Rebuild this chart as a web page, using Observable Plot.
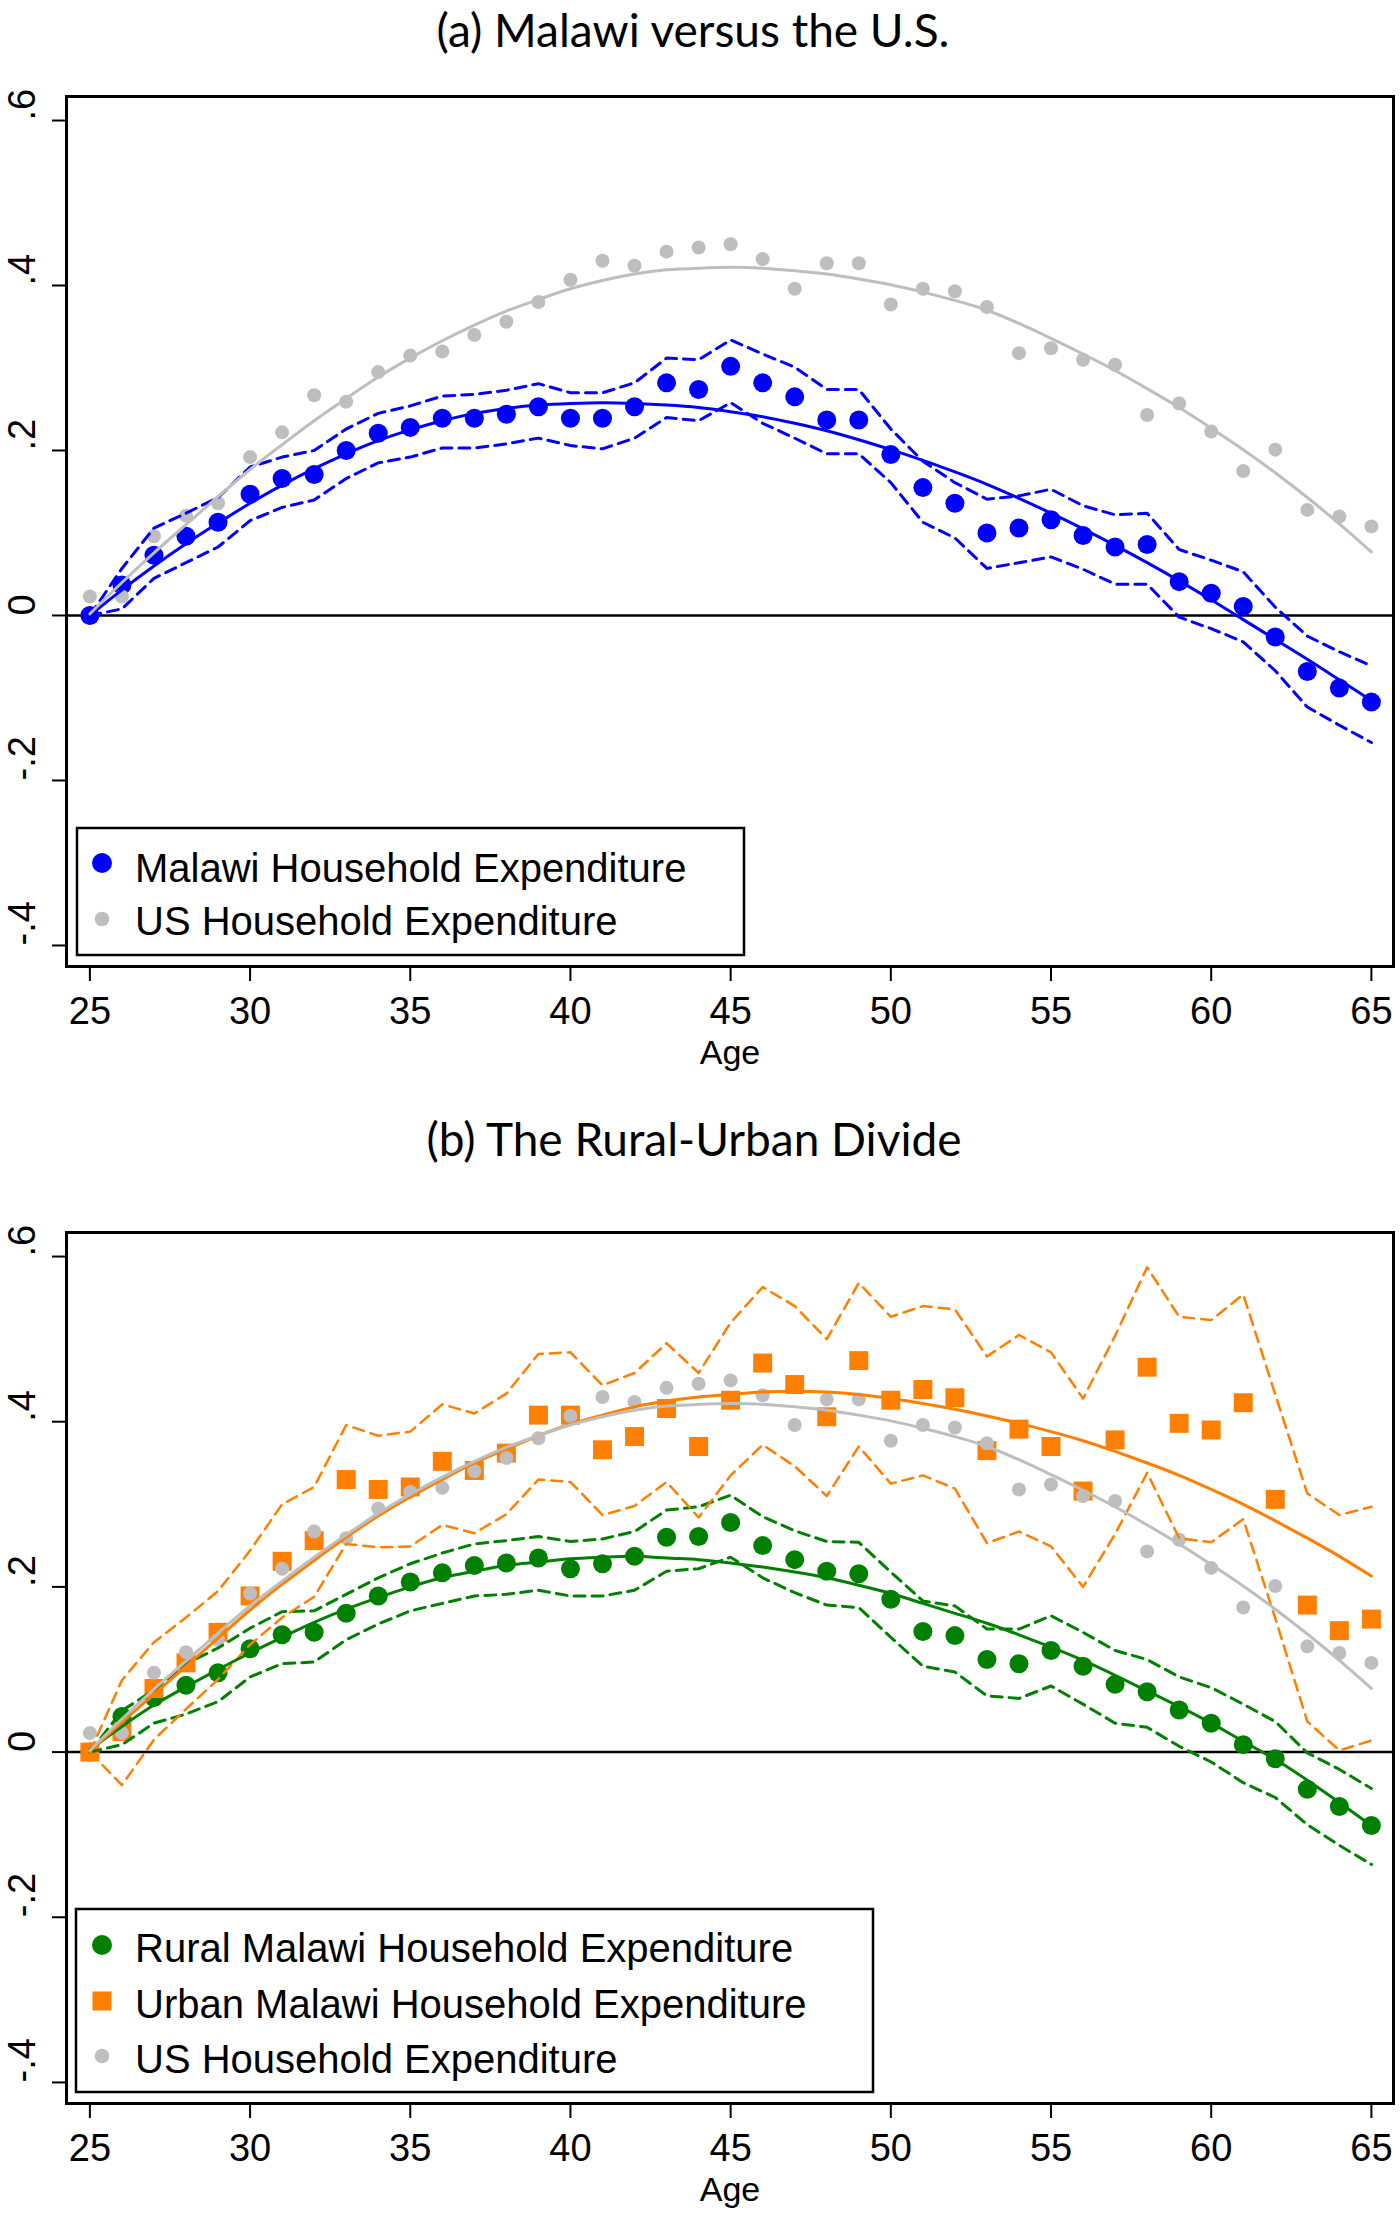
<!DOCTYPE html>
<html><head><meta charset="utf-8">
<script src="https://cdn.jsdelivr.net/npm/d3@7"></script>
<script src="https://cdn.jsdelivr.net/npm/@observablehq/plot@0.6"></script>
<style>
body{margin:0;background:#fff;}
#page{position:relative;width:1400px;height:2213px;overflow:hidden;background:#fff;}
.panel{position:absolute;left:0;}
.legend{position:absolute;left:0;top:0;}
</style></head>
<body><div id="page"></div>
<script>
// ---- data ----
const ages = [25,26,27,28,29,30,31,32,33,34,35,36,37,38,39,40,41,42,43,44,45,46,47,48,49,50,51,52,53,54,55,56,57,58,59,60,61,62,63,64,65];
const malawi   = [0,0.037,0.073,0.096,0.113,0.147,0.166,0.171,0.200,0.221, 0.228,0.239,0.239,0.244,0.253,0.239,0.239,0.253,0.282,0.274, 0.302,0.282,0.265,0.237,0.237,0.195,0.155,0.136,0.100,0.106, 0.116,0.097,0.083,0.086,0.041,0.027,0.011,-0.026,-0.068,-0.088, -0.105];
const malawiHi = [0,0.057,0.106,0.124,0.143,0.180,0.192,0.200,0.226,0.245, 0.254,0.266,0.268,0.273,0.281,0.270,0.270,0.282,0.312,0.310, 0.334,0.317,0.301,0.274,0.274,0.226,0.187,0.161,0.141,0.145, 0.153,0.133,0.122,0.124,0.080,0.067,0.053,0.010,-0.025,-0.044, -0.061];
const malawiLo = [0,0.008,0.045,0.064,0.083,0.115,0.131,0.140,0.166,0.185, 0.192,0.203,0.203,0.208,0.215,0.206,0.202,0.215,0.240,0.236, 0.258,0.233,0.215,0.196,0.196,0.161,0.113,0.094,0.057,0.064, 0.071,0.056,0.038,0.038,-0.002,-0.016,-0.032,-0.067,-0.111,-0.133, -0.154];
const malawiFit= [0,0.031,0.060,0.087,0.112,0.136,0.158,0.178,0.196,0.212, 0.225,0.236,0.245,0.251,0.255,0.257,0.258,0.257,0.255,0.252, 0.247,0.241,0.233,0.224,0.213,0.201,0.188,0.174,0.159,0.142, 0.124,0.105,0.085,0.064,0.042,0.019,-0.005,-0.029,-0.053,-0.078, -0.103];
const us       = [0.023,0.023,0.096,0.121,0.136,0.192,0.222,0.267,0.259,0.295, 0.315,0.320,0.340,0.356,0.380,0.407,0.430,0.424,0.441,0.446, 0.450,0.432,0.396,0.427,0.427,0.377,0.396,0.393,0.374,0.318, 0.324,0.310,0.304,0.243,0.257,0.223,0.175,0.201,0.128,0.120, 0.108];
const usFit    = [0.002,0.040,0.076,0.110,0.144,0.177,0.207,0.236,0.263,0.289, 0.312,0.333,0.352,0.369,0.383,0.396,0.406,0.414,0.419,0.421, 0.422,0.421,0.418,0.414,0.408,0.401,0.392,0.382,0.370,0.354, 0.336,0.317,0.297,0.275,0.252,0.227,0.201,0.173,0.143,0.111, 0.077];
const rural    = [0,0.043,0.066,0.081,0.096,0.125,0.142,0.145,0.168,0.189, 0.206,0.217,0.226,0.229,0.235,0.222,0.228,0.237,0.260,0.261, 0.278,0.250,0.233,0.219,0.216,0.185,0.146,0.141,0.112,0.107, 0.123,0.104,0.082,0.073,0.051,0.035,0.009,-0.008,-0.045,-0.066, -0.089];
const ruralHi  = [0,0.050,0.075,0.107,0.126,0.150,0.170,0.171,0.191,0.211, 0.228,0.241,0.252,0.256,0.261,0.255,0.258,0.267,0.293,0.297, 0.311,0.285,0.268,0.255,0.254,0.218,0.183,0.177,0.149,0.149, 0.165,0.145,0.123,0.112,0.091,0.078,0.058,0.037,-0.001,-0.021, -0.044];
const ruralLo  = [0,0.009,0.035,0.046,0.061,0.091,0.107,0.109,0.136,0.155, 0.171,0.180,0.189,0.191,0.196,0.189,0.189,0.196,0.219,0.222, 0.236,0.211,0.193,0.178,0.175,0.139,0.104,0.097,0.068,0.065, 0.080,0.058,0.035,0.030,0.007,-0.012,-0.037,-0.055,-0.088,-0.113, -0.136];
const ruralFit = [0.003,0.031,0.057,0.079,0.100,0.120,0.139,0.157,0.173,0.187, 0.200,0.211,0.219,0.226,0.230,0.234,0.236,0.237,0.235,0.233, 0.229,0.224,0.218,0.211,0.202,0.192,0.180,0.168,0.156,0.142, 0.127,0.111,0.093,0.074,0.055,0.035,0.013,-0.009,-0.034,-0.061, -0.089];
const urban    = [0,0.025,0.077,0.108,0.145,0.189,0.231,0.256,0.330,0.318, 0.321,0.352,0.341,0.362,0.408,0.408,0.366,0.382,0.416,0.370, 0.426,0.471,0.445,0.406,0.474,0.426,0.439,0.429,0.365,0.391, 0.370,0.316,0.378,0.466,0.398,0.390,0.423,0.306,0.178,0.147, 0.161];
const urbanHi  = [0,0.087,0.133,0.163,0.195,0.244,0.300,0.321,0.396,0.383, 0.388,0.421,0.410,0.434,0.482,0.484,0.444,0.459,0.495,0.459, 0.520,0.563,0.540,0.500,0.568,0.527,0.540,0.536,0.479,0.505, 0.484,0.428,0.504,0.587,0.527,0.523,0.554,0.433,0.313,0.287, 0.297];
const urbanLo  = [0,-0.040,0.015,0.052,0.088,0.130,0.163,0.188,0.252,0.248, 0.249,0.275,0.265,0.288,0.330,0.327,0.287,0.298,0.327,0.284, 0.335,0.372,0.346,0.310,0.370,0.325,0.335,0.319,0.253,0.267, 0.249,0.200,0.264,0.338,0.259,0.254,0.282,0.162,0.037,0.002, 0.014];
const urbanFit = [0.001,0.036,0.070,0.104,0.138,0.172,0.203,0.232,0.260,0.286, 0.309,0.330,0.350,0.367,0.383,0.397,0.408,0.418,0.425,0.430, 0.433,0.436,0.437,0.436,0.433,0.428,0.422,0.415,0.407,0.398, 0.388,0.377,0.364,0.350,0.335,0.318,0.300,0.280,0.259,0.237, 0.213];

const xTicks = [25,30,35,40,45,50,55,60,65];
const yTicks = [-0.4,-0.2,0,0.2,0.4,0.6];
const yTickLabels = ["-.4","-.2","0",".2",".4",".6"];
const titleA = "(a) Malawi versus the U.S.";
const titleB = "(b) The Rural-Urban Divide";
const legendA = ["Malawi Household Expenditure","US Household Expenditure"];
const legendB = ["Rural Malawi Household Expenditure","Urban Malawi Household Expenditure","US Household Expenditure"];
const xLabel = "Age";

const BLUE = "#0000ff", GRAY = "#bebebe", GREEN = "#008000", ORANGE = "#ff7f00";
const AXFONT = "'Liberation Sans', Arial, Helvetica, sans-serif";
const TFONT = "Lato, 'Open Sans', sans-serif";

const table = ages.map((a, i) => ({age: a, malawi: malawi[i], malawiHi: malawiHi[i], malawiLo: malawiLo[i], malawiFit: malawiFit[i],
  us: us[i], usFit: usFit[i], rural: rural[i], ruralHi: ruralHi[i], ruralLo: ruralLo[i], ruralFit: ruralFit[i],
  urban: urban[i], urbanHi: urbanHi[i], urbanLo: urbanLo[i], urbanFit: urbanFit[i]}));

function axesMarks(title, titleDx, titleDy) {
  return [
    Plot.frame({stroke: "black", strokeWidth: 3}),
    Plot.axisX({ticks: xTicks, tickSize: 15, tickPadding: 16, fontSize: 38, label: null, strokeWidth: 2, fontFamily: AXFONT, tickFormat: d => String(d)}),
    Plot.axisY({ticks: yTicks, tickSize: 14, label: null, strokeWidth: 2, tickFormat: () => ""}),
    Plot.text(yTicks, {y: yTicks, text: yTickLabels, frameAnchor: "left", dx: -44, rotate: -90, fontSize: 38, lineAnchor: "middle", fontFamily: AXFONT, fill: "black"}),
    Plot.text([xLabel], {frameAnchor: "bottom", dy: 87, lineAnchor: "middle", fontSize: 34, fontFamily: AXFONT, fill: "black"}),
    Plot.text([title], {frameAnchor: "top", dx: titleDx, dy: titleDy, lineAnchor: "middle", fontSize: 46, fontFamily: TFONT, fill: "black"})
  ];
}
const common = {width: 1400, marginLeft: 66, marginRight: 7,
  x: {domain: [24.27, 65.69]}, y: {domain: [-0.4255, 0.6291]},
  style: {background: "white", fontFamily: AXFONT}};
const dash = "11,7";

const plotA = Plot.plot({...common, height: 1090, marginTop: 96, marginBottom: 124,
  marks: [
    Plot.ruleY([0], {stroke: "black", strokeWidth: 2.5}),
    Plot.dot(table, {x: "age", y: "malawi", r: 9.5, fill: BLUE}),
    Plot.dot(table, {x: "age", y: "us", r: 7, fill: GRAY}),
    Plot.line(table, {x: "age", y: "malawiHi", stroke: BLUE, strokeWidth: 3, strokeDasharray: dash}),
    Plot.line(table, {x: "age", y: "malawiLo", stroke: BLUE, strokeWidth: 3, strokeDasharray: dash}),
    Plot.line(table, {x: "age", y: "malawiFit", stroke: BLUE, strokeWidth: 3, curve: "natural"}),
    Plot.line(table, {x: "age", y: "usFit", stroke: GRAY, strokeWidth: 3, curve: "natural"}),
    ...axesMarks(titleA, -37, -64)
  ]});

const plotB = Plot.plot({...common, height: 1113, marginTop: 132, marginBottom: 110,
  marks: [
    Plot.ruleY([0], {stroke: "black", strokeWidth: 2.5}),
    Plot.dot(table, {x: "age", y: "rural", r: 9.5, fill: GREEN}),
    Plot.dot(table, {x: "age", y: "urban", r: 10.7, symbol: "square", fill: ORANGE}),
    Plot.dot(table, {x: "age", y: "us", r: 7, fill: GRAY}),
    Plot.line(table, {x: "age", y: "ruralHi", stroke: GREEN, strokeWidth: 3, strokeDasharray: dash}),
    Plot.line(table, {x: "age", y: "ruralLo", stroke: GREEN, strokeWidth: 3, strokeDasharray: dash}),
    Plot.line(table, {x: "age", y: "urbanHi", stroke: ORANGE, strokeWidth: 2.5, strokeDasharray: dash}),
    Plot.line(table, {x: "age", y: "urbanLo", stroke: ORANGE, strokeWidth: 2.5, strokeDasharray: dash}),
    Plot.line(table, {x: "age", y: "ruralFit", stroke: GREEN, strokeWidth: 3, curve: "natural"}),
    Plot.line(table, {x: "age", y: "urbanFit", stroke: ORANGE, strokeWidth: 3, curve: "natural"}),
    Plot.line(table, {x: "age", y: "usFit", stroke: GRAY, strokeWidth: 3, curve: "natural"}),
    ...axesMarks(titleB, -36, -91)
  ]});

const page = document.getElementById("page");
const wrapA = document.createElement("div"); wrapA.className = "panel"; wrapA.style.top = "0px"; wrapA.appendChild(plotA); page.appendChild(wrapA);
const wrapB = document.createElement("div"); wrapB.className = "panel"; wrapB.style.top = "1100px"; wrapB.appendChild(plotB); page.appendChild(wrapB);

// legends
const leg = d3.select(page).append("svg").attr("class", "legend").attr("width", 1400).attr("height", 2213)
  .style("pointer-events", "none");
function drawLegend(box, rows) {
  leg.append("rect").attr("x", box.x).attr("y", box.y).attr("width", box.w).attr("height", box.h)
    .attr("fill", "white").attr("stroke", "black").attr("stroke-width", 2.5);
  rows.forEach(r => {
    if (r.shape === "square") leg.append("rect").attr("x", 102 - r.size/2).attr("y", r.cy - r.size/2).attr("width", r.size).attr("height", r.size).attr("fill", r.color);
    else leg.append("circle").attr("cx", 102).attr("cy", r.cy).attr("r", r.size).attr("fill", r.color);
    leg.append("text").attr("x", 135).attr("y", r.base).attr("font-family", AXFONT).attr("font-size", 40).attr("fill", "black").text(r.label);
  });
}
drawLegend({x: 77, y: 828, w: 667, h: 127}, [
  {label: legendA[0], color: BLUE, size: 10, cy: 863, base: 882},
  {label: legendA[1], color: GRAY, size: 7.3, cy: 919, base: 935}]);
drawLegend({x: 76, y: 1909, w: 797, h: 183}, [
  {label: legendB[0], color: GREEN, size: 10, cy: 1945, base: 1962},
  {label: legendB[1], color: ORANGE, size: 19, shape: "square", cy: 2001, base: 2018},
  {label: legendB[2], color: GRAY, size: 7.3, cy: 2056, base: 2073}]);
</script>
</body></html>
